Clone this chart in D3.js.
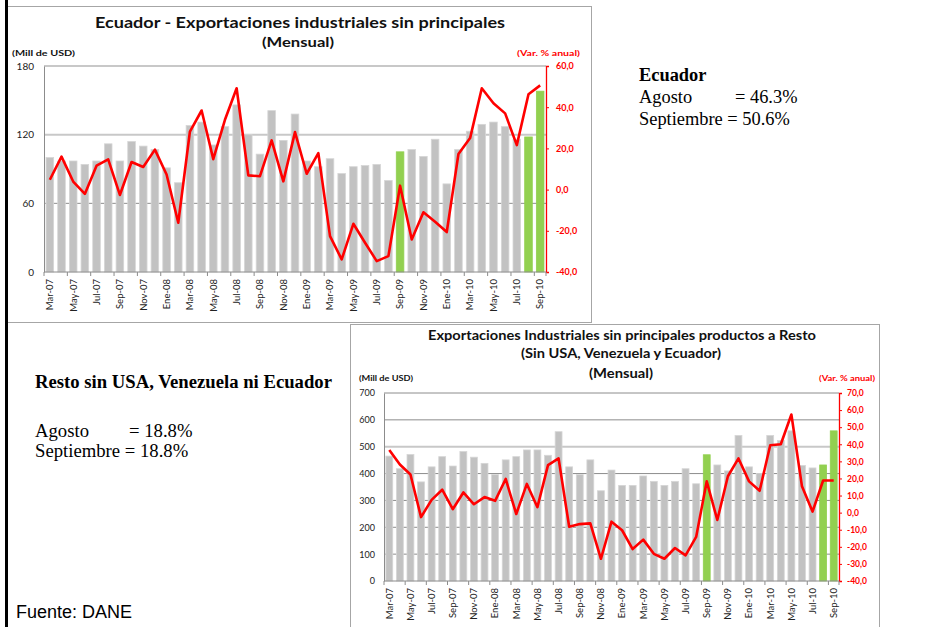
<!DOCTYPE html>
<html><head><meta charset="utf-8">
<script src="https://cdn.jsdelivr.net/npm/d3@7"></script>
<style>
html,body{margin:0;padding:0;background:#fff;}
svg{display:block;}
</style></head>
<body>
<svg id="c" width="951" height="627"></svg>
<script>
// ---------- DATA ----------
const months = ["Mar-07","Abr-07","May-07","Jun-07","Jul-07","Ago-07","Sep-07","Oct-07","Nov-07","Dic-07",
"Ene-08","Feb-08","Mar-08","Abr-08","May-08","Jun-08","Jul-08","Ago-08","Sep-08","Oct-08","Nov-08","Dic-08",
"Ene-09","Feb-09","Mar-09","Abr-09","May-09","Jun-09","Jul-09","Ago-09","Sep-09","Oct-09","Nov-09","Dic-09",
"Ene-10","Feb-10","Mar-10","Abr-10","May-10","Jun-10","Jul-10","Ago-10","Sep-10"];
const tickMonths = months.filter((m,i)=>i%2===0);
const highlightMonths = ["Sep-09","Ago-10","Sep-10"];

const ecuadorValues = [100,97,97,94,97,112,97,114,110,107,
 91,78,128,131,111,127,146,120,103,141,115,138,
 97,92,99,86,92,93,94,80,105,107,101,116,
 77,107,123,129,131,127,116,118,158];
const ecuadorGrowth = [4.8,16,3.9,-2.1,11.6,14.7,-2.6,13.4,11,19.4,
 7.3,-16.1,28.2,38.4,14.8,33.9,49.2,6.9,6.5,23.9,4,27.9,
 7.7,17.7,-22.6,-33.9,-16.6,-25.8,-34.7,-32.3,1.9,-24.2,-11,-15.6,
 -20.6,17.3,25,49.2,41.9,37,21.6,46.3,50.6];

const restoValues = [465,418,471,369,425,463,428,482,461,438,
 396,451,463,488,488,468,556,425,396,451,336,413,
 356,356,391,371,356,371,418,362,470,432,410,542,
 425,400,542,523,559,430,421,432,559];
const restoGrowth = [36.7,28.2,22.3,-2.6,7.5,13.4,2,11.8,4.9,9.1,
 6.9,19.7,-0.8,16.8,3.2,27.8,31.7,-8.3,-6.7,-6.3,-27,-5.3,
 -10.3,-21.3,-15.8,-24.1,-27,-20.7,-25,-14.2,18.3,-4.3,21.3,31.7,
 18.3,12.8,39.4,40,57.4,15.4,0.6,18.8,18.8];

const ecuadorLeftTicks = [0,60,120,180];
const ecuadorRightTicks = [-40,-20,0,20,40,60];
const restoLeftTicks = [0,100,200,300,400,500,600,700];
const restoRightTicks = [-40,-30,-20,-10,0,10,20,30,40,50,60,70];

// ---------- DRAW ----------
const svg = d3.select("#c");
const FONT = "Lato, 'Open Sans', sans-serif";
const SERIF = "'Liberation Serif','Times New Roman',serif";

// frames
svg.append("rect").attr("x",7.5).attr("y",6.5).attr("width",584).attr("height",316)
  .attr("fill","#fff").attr("stroke","#a6a6a6");
svg.append("rect").attr("x",350.5).attr("y",324.5).attr("width",529).attr("height",320)
  .attr("fill","#fff").attr("stroke","#a6a6a6");
svg.append("line").attr("x1",6.5).attr("x2",6.5).attr("y1",0).attr("y2",627)
  .attr("stroke","#000").attr("stroke-width",3);

function chart(cfg){
  const g = svg.append("g");
  const x = d3.scaleBand().domain(months).range([cfg.x0,cfg.x1]).paddingInner(0.35).paddingOuter(0.175);
  const yL = d3.scaleLinear().domain(cfg.lDom).range([cfg.yb,cfg.yt]);
  const yR = d3.scaleLinear().domain(cfg.rDom).range([cfg.yb,cfg.yt]);

  // gridlines
  g.append("g").selectAll("line").data(cfg.lTicks.filter(d=>d>0)).join("line")
    .attr("x1",cfg.x0).attr("x2",cfg.x1)
    .attr("y1",d=>yL(d)).attr("y2",d=>yL(d))
    .attr("stroke",d=>cfg.lightGrid.includes(d)?"#c8c8c8":"#8c8c8c")
    .attr("stroke-width",d=>cfg.lightGrid.includes(d)?2:1);

  // bars
  g.append("g").selectAll("rect").data(months).join("rect")
    .attr("x",m=>x(m)).attr("width",x.bandwidth())
    .attr("y",(m,i)=>yL(cfg.values[i]))
    .attr("height",(m,i)=>yL(0)-yL(cfg.values[i]))
    .attr("fill",m=>highlightMonths.includes(m)?"#92d050":"#c2c2c2")
    .attr("stroke",m=>highlightMonths.includes(m)?"#92d050":"#d6d6d6")
    .attr("stroke-width",0.8);

  // left axis
  const la = g.append("g").attr("transform",`translate(${cfg.x0},0)`)
    .call(d3.axisLeft(yL).tickValues(cfg.lTicks).tickSize(0).tickPadding(cfg.lPad).tickFormat(d3.format("d")));
  la.select(".domain").attr("stroke","#8c8c8c");
  la.selectAll("text").attr("font-family",FONT).attr("font-size",cfg.lfs).attr("fill","#222");

  // right axis
  const ra = g.append("g").attr("transform",`translate(${cfg.x1},0)`)
    .call(d3.axisRight(yR).tickValues(cfg.rTicks).tickSize(3).tickPadding(cfg.rPad)
      .tickFormat(d=>d.toFixed(1).replace(".",",")));
  ra.select(".domain").attr("stroke","#ff0000").attr("stroke-width",1.3);
  ra.selectAll("line").attr("stroke","#ff0000");
  ra.selectAll("text").attr("font-family",FONT).attr("font-size",cfg.rfs).attr("font-weight","bold").attr("fill","#ff0000");

  // bottom axis
  const step = x.step();
  const ba = g.append("g").attr("transform",`translate(0,${cfg.yb})`)
    .call(d3.axisBottom(x).tickValues(tickMonths).tickSize(0).tickPadding(0));
  ba.select(".domain").remove();
  ba.append("line").attr("x1",cfg.x0).attr("x2",cfg.x1).attr("stroke","#8c8c8c");
  ba.selectAll(".bnd").data(tickMonths.concat(["__end"])).join("line").attr("class","bnd")
    .attr("x1",m=>m==="__end"?cfg.x1:x(m)+x.bandwidth()/2-step/2)
    .attr("x2",m=>m==="__end"?cfg.x1:x(m)+x.bandwidth()/2-step/2)
    .attr("y1",0).attr("y2",4).attr("stroke","#8c8c8c");
  ba.selectAll(".tick text")
    .attr("font-family",FONT).attr("font-size",9.5).attr("fill","#222")
    .attr("text-anchor","end").attr("dy","0.35em")
    .attr("transform","translate(0,7) rotate(-90)")
    .attr("x",0).attr("y",0);

  // growth line
  const line = d3.line().x((d,i)=>x(months[i])+x.bandwidth()/2).y(d=>yR(d));
  g.append("path").datum(cfg.growth).attr("d",line)
    .attr("fill","none").attr("stroke","#ff0000").attr("stroke-width",2.6).attr("stroke-linejoin","round");

  // titles
  cfg.titles.forEach(t=>{
    const tx = g.append("text").attr("x",t.x).attr("y",t.y).attr("text-anchor","middle")
      .attr("font-family",FONT).attr("font-weight","bold").attr("font-size",t.fs).attr("fill","#111").text(t.text);
    if(t.len) tx.attr("textLength",t.len).attr("lengthAdjust","spacingAndGlyphs");
  });
  g.append("text").attr("x",cfg.unitL.x).attr("y",cfg.unitL.y)
    .attr("font-family",FONT).attr("font-weight","bold").attr("font-size",cfg.unitL.fs).attr("fill","#111")
    .attr("textLength",cfg.unitL.len).attr("lengthAdjust","spacingAndGlyphs").text("(Mill de USD)");
  g.append("text").attr("x",cfg.unitR.x).attr("y",cfg.unitR.y)
    .attr("font-family",FONT).attr("font-weight","bold").attr("font-size",cfg.unitR.fs).attr("fill","#ff0000")
    .attr("textLength",cfg.unitR.len).attr("lengthAdjust","spacingAndGlyphs").text("(Var. % anual)");
}

chart({
  x0:44, x1:546, yb:272, yt:66,
  lDom:[0,180], rDom:[-40,60],
  lTicks:ecuadorLeftTicks, rTicks:ecuadorRightTicks, lightGrid:[120,180],
  values:ecuadorValues, growth:ecuadorGrowth,
  lPad:10, rPad:7, lfs:10, rfs:9,
  titles:[
    {text:"Ecuador - Exportaciones industriales sin principales", x:300, y:28, fs:15.5, len:410},
    {text:"(Mensual)", x:298, y:47, fs:13, len:72}
  ],
  unitL:{x:12, y:56, fs:8, len:63},
  unitR:{x:517, y:56, fs:8, len:63}
});

chart({
  x0:384, x1:839, yb:581, yt:393,
  lDom:[0,700], rDom:[-40,70],
  lTicks:restoLeftTicks, rTicks:restoRightTicks, lightGrid:[500],
  values:restoValues, growth:restoGrowth,
  lPad:9, rPad:5, lfs:9, rfs:8.5,
  titles:[
    {text:"Exportaciones Industriales sin principales productos a Resto", x:622, y:340, fs:12.5, len:388},
    {text:"(Sin USA, Venezuela y Ecuador)", x:621, y:358, fs:12.5, len:200},
    {text:"(Mensual)", x:621, y:378, fs:12.5, len:64}
  ],
  unitL:{x:359, y:381, fs:8, len:54},
  unitR:{x:819, y:381, fs:8, len:56}
});

// annotations
function serif(x,y,txt,bold,fs){
  svg.append("text").attr("x",x).attr("y",y).attr("font-family",SERIF)
    .attr("font-size",fs).attr("font-weight",bold?"bold":"normal").attr("fill","#000")
    .text(txt);
}
serif(639,81,"Ecuador",true,18.4);
serif(639,103,"Agosto",false,18.4); serif(735,103,"= 46.3%",false,18.4);
serif(639,125,"Septiembre = 50.6%",false,18.4);

serif(35,388,"Resto sin USA, Venezuela ni Ecuador",true,18.7);
serif(35,437,"Agosto",false,18.7); serif(129,437,"= 18.8%",false,18.7);
serif(35,457,"Septiembre = 18.8%",false,18.7);

svg.append("text").attr("x",16).attr("y",618).attr("font-family","'Liberation Sans',Arial,sans-serif")
  .attr("font-size",18).attr("fill","#000").text("Fuente: DANE");
</script>
</body></html>
